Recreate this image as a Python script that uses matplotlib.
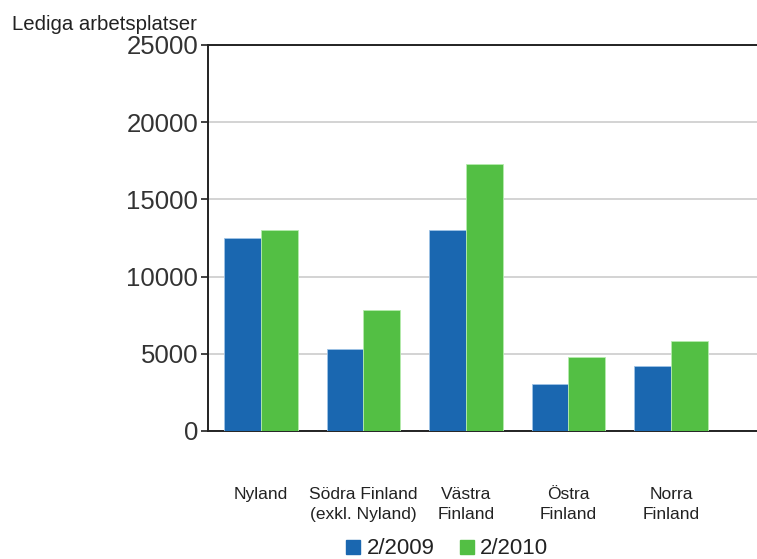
import numpy as np
import matplotlib
matplotlib.use("Agg")
import matplotlib.pyplot as plt
from matplotlib.lines import Line2D

plt.rcParams["font.family"] = ["Liberation Sans", "DejaVu Sans"]

# data
regions = ["Nyland", "Södra Finland\n(exkl. Nyland)", "Västra\nFinland", "Östra\nFinland", "Norra\nFinland"]
series_names = ["2/2009", "2/2010"]
values_2009 = [12500, 5330, 13000, 3040, 4190]
values_2010 = [13000, 7820, 17270, 4790, 5850]
y_ticks = [0, 5000, 10000, 15000, 20000, 25000]

BLUE = "#1a67b0"
GREEN = "#53bf44"
TEXT = "#222222"

fig = plt.figure(figsize=(7.57, 5.59), dpi=100)
ax = fig.add_axes([208 / 757, 128 / 559, 549 / 757, 386 / 559])

x = np.arange(len(regions))
w = 0.358
ax.bar(x - w / 2, values_2009, width=w, color=BLUE, edgecolor="#9fc3e6", linewidth=0.6, zorder=3)
ax.bar(x + w / 2, values_2010, width=w, color=GREEN, edgecolor="#b6ecae", linewidth=0.6, zorder=3)

ax.set_xlim(-0.517, 4.839)
ax.set_ylim(0, 25000)
ax.set_yticks(y_ticks)
ax.set_yticklabels([str(t) for t in y_ticks], fontsize=18.5, color="#333333")
ax.set_xticks(x)
ax.set_xticklabels(regions, fontsize=12.5, color=TEXT, linespacing=1.45, va="top")
ax.tick_params(axis="x", length=0, pad=40)
ax.tick_params(axis="y", length=5, width=1.2, color="#222222", pad=2)

ax.grid(axis="y", color="#cccccc", linewidth=1.2, zorder=0)
for side in ["left", "bottom", "top"]:
    ax.spines[side].set_color("#222222")
    ax.spines[side].set_linewidth(1.4)
ax.spines["right"].set_visible(False)

fig.text(12 / 757, 1 - 30 / 559, "Lediga arbetsplatser", fontsize=14.7, color=TEXT,
         ha="left", va="baseline")

handles = [
    Line2D([], [], linestyle="none", marker="s", markersize=10, color=BLUE),
    Line2D([], [], linestyle="none", marker="s", markersize=10, color=GREEN),
]
fig.legend(handles, series_names, loc="center", bbox_to_anchor=(447 / 757, 1 - 549 / 559),
           ncol=2, frameon=False, fontsize=16, handlelength=0.7, handletextpad=0.25,
           columnspacing=1.1, labelcolor=TEXT, borderpad=0)

fig.savefig("out.png", dpi=100)
